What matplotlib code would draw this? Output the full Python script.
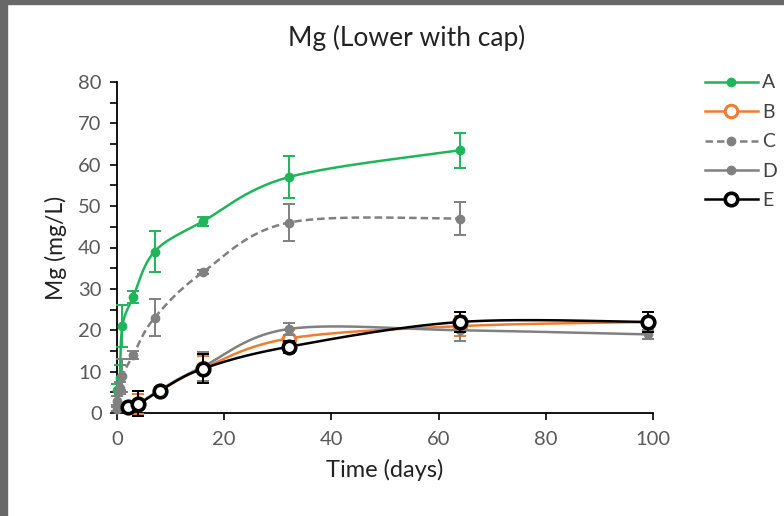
# Mg (Lower with cap) - Excel-like smoothed scatter with error bars
import numpy as np
import matplotlib
matplotlib.use("Agg")
from matplotlib import pyplot as plt
from matplotlib.lines import Line2D
from matplotlib.patches import Rectangle

plt.rcParams['font.family'] = ['Lato', 'DejaVu Sans']

# data
a_x = [0, 0.5, 1, 3, 7, 16, 32, 64]
a_y = [5.5, 8.5, 21, 28, 39, 46.3, 57, 63.5]
a_err = [1.5, 3, 5, 1.5, 5, 1, 5, 4.2]

b_x = [2, 4, 8, 16, 32, 64, 99]
b_y = [1.4, 2.2, 5.4, 10.8, 18, 21, 22]
b_err = [0.5, 2.5, 0.8, 3, 2, 2.5, 2.5]

c_x = [0, 0.5, 1, 3, 7, 16, 32, 64]
c_y = [3, 6, 9, 14, 23, 34, 46, 47]
c_err = [1, 1.5, 4, 1, 4.5, 0.5, 4.5, 4]

d_x = [0, 2, 4, 8, 16, 32, 64, 99]
d_y = [1, 1.5, 2.2, 5.6, 11.2, 20.3, 20, 19]
d_err = [0.5, 0.5, 3, 0.8, 3.5, 1.5, 2.5, 1]

e_x = [2, 4, 8, 16, 32, 64, 99]
e_y = [1.4, 2.2, 5.4, 10.7, 16, 22, 22]
e_err = [0.5, 3, 0.8, 3.5, 1.5, 2.5, 2.5]

labels = ["A", "B", "C", "D", "E"]


def smooth(xs, ys, n=30):
    # Excel style smoothed line (Catmull-Rom bezier)
    p = np.column_stack([xs, ys]).astype(float)
    out = [p[0]]
    for i in range(len(p) - 1):
        p0 = p[i - 1] if i > 0 else p[i]
        p3 = p[i + 2] if i + 2 < len(p) else p[i + 1]
        c1 = p[i] + (p[i + 1] - p0) / 6
        c2 = p[i + 1] - (p3 - p[i]) / 6
        t = np.linspace(0, 1, n)[1:, None]
        seg = ((1 - t) ** 3) * p[i] + 3 * ((1 - t) ** 2) * t * c1 \
            + 3 * (1 - t) * t ** 2 * c2 + t ** 3 * p[i + 1]
        out.extend(seg)
    out = np.array(out)
    return out[:, 0], out[:, 1]


green = "#1FB55A"
orange = "#ED7D31"
gray = "#808080"

fig = plt.figure(figsize=(7.84, 5.16), dpi=100)
W, H = 784, 516
# dark frame at top / left like the screenshot
fig.patches.append(Rectangle((0, 0), 7 / W, 1, transform=fig.transFigure,
                             color="#686868", zorder=-1))
fig.patches.append(Rectangle((0, 1 - 4 / H), 1, 4 / H, transform=fig.transFigure,
                             color="#686868", zorder=-1))

ax = fig.add_axes([117 / W, 1 - 413 / H, (653 - 117) / W, (413 - 82) / H])

series = [
    (a_x, a_y, a_err, green, "-", dict(marker="o", ms=6, mfc=green, mec=green)),
    (b_x, b_y, b_err, orange, "-", dict(marker="o", ms=9, mfc="white", mec=orange, mew=2.2)),
    (c_x, c_y, c_err, gray, (0, (3, 1.6)), dict(marker="o", ms=6, mfc=gray, mec=gray)),
    (d_x, d_y, d_err, gray, "-", dict(marker="o", ms=6, mfc=gray, mec=gray)),
    (e_x, e_y, e_err, "black", "-", dict(marker="o", ms=9, mfc="white", mec="black", mew=2.6)),
]

handles = []
for k, (xs, ys, err, col, ls, mk) in enumerate(series):
    z = 3 + k
    sx, sy = smooth(xs, ys)
    ax.plot(sx, sy, color=col, lw=1.8, ls=ls, zorder=z, clip_on=False)
    ax.errorbar(xs, ys, yerr=err, fmt="none", ecolor=col, elinewidth=1.4,
                capsize=4, capthick=1.4, zorder=z, clip_on=False)
    ax.plot(xs, ys, ls="none", zorder=z + 0.5, clip_on=False, **mk)
    handles.append(Line2D([], [], color=col, lw=1.8, ls=ls, **mk))

ax.set_xlim(0, 100)
ax.set_ylim(0, 80)
ax.set_xticks(range(0, 101, 20))
ax.set_yticks(range(0, 81, 10))
ax.set_yticks(range(0, 81, 5), minor=True)
for s in ["top", "right"]:
    ax.spines[s].set_visible(False)
for s in ["left", "bottom"]:
    ax.spines[s].set_color("black")
    ax.spines[s].set_linewidth(1.3)
ax.tick_params(axis="both", which="both", direction="out", length=5, width=1.2,
               color="black", labelcolor="#595959", labelsize=14.5)
ax.tick_params(axis="y", pad=6)
ax.tick_params(axis="x", pad=8)

ax.set_xlabel("Time (days)", fontsize=17, color="#222222", labelpad=8)
ax.set_ylabel("Mg (mg/L)", fontsize=16.5, color="#222222", labelpad=8)
fig.text(407 / W, 1 - 38 / H, "Mg (Lower with cap)", fontsize=19,
         ha="center", va="center", color="#222222")

fig.legend(handles, labels, loc="upper left", bbox_to_anchor=(687 / W, 1 - 57 / H),
           frameon=False, fontsize=14, handlelength=2.75, handletextpad=0.2,
           labelspacing=0.64, labelcolor="#404040")

fig.savefig("out.png", dpi=100)
